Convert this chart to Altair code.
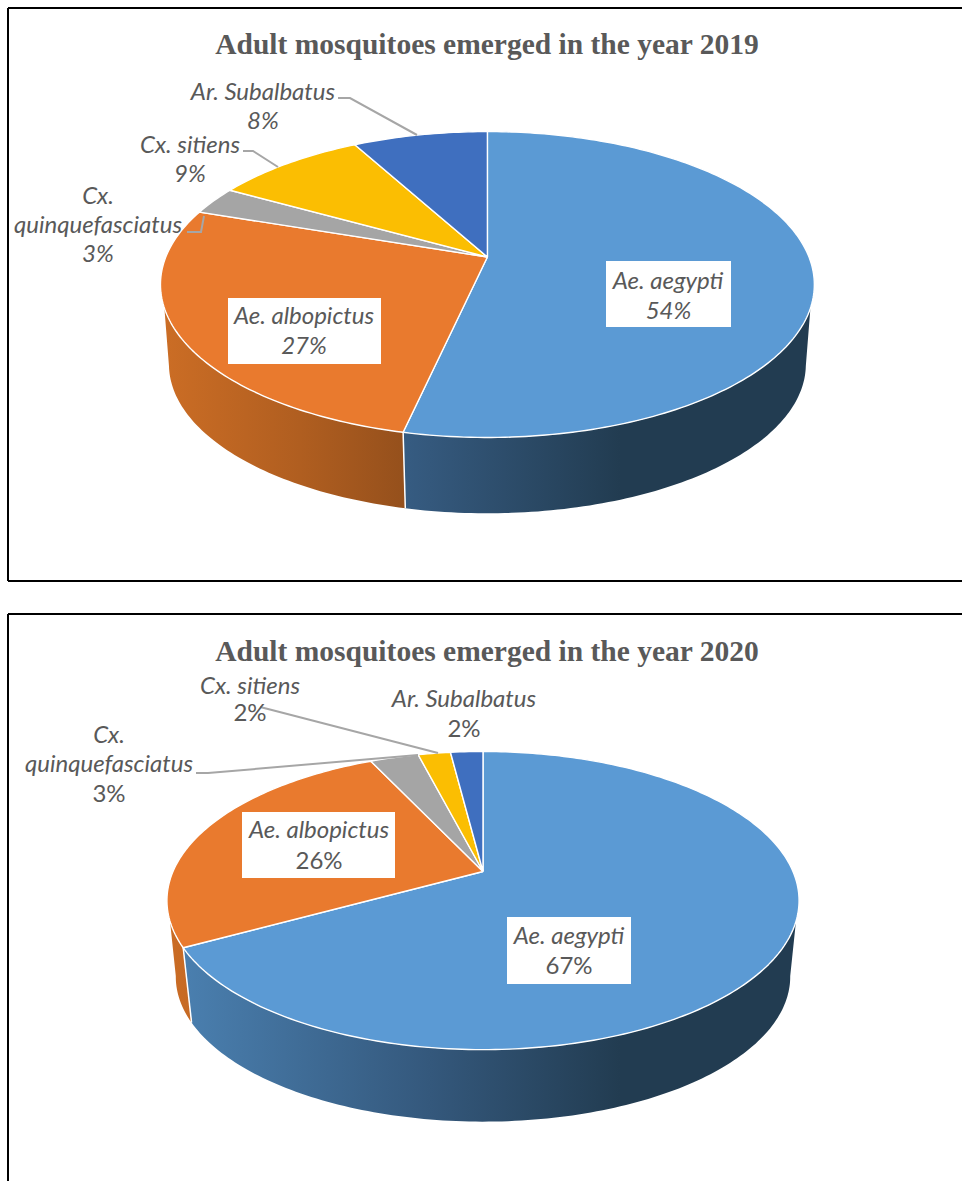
import math

import altair as alt
import pandas as pd

# Species in slice order, clockwise from twelve o'clock
SPECIES = ["Ae. aegypti", "Ae. albopictus", "Cx. quinquefasciatus", "Cx. sitiens", "Ar. Subalbatus"]
SHARES_2019 = [54, 27, 3, 9, 8]
SHARES_2020 = [67, 26, 3, 2, 2]
TITLE_2019 = "Adult mosquitoes emerged in the year 2019"
TITLE_2020 = "Adult mosquitoes emerged in the year 2020"

SLICE_COLORS = ["#5B9AD4", "#E97A2E", "#A5A5A5", "#FBBE02", "#3F6FBF"]
TEXT_COLOR = "#595959"
LEADER_COLOR = "#A6A6A6"

W, H = 962, 1181

# Perspective of each disc: apex on screen, lateral scale, depth scale, tilt,
# rim scale and drop of the lower rim.
DISC_2019 = dict(cx=487.4, cy=257, a=321.6, b=148.0, k=0.18, s=0.974, drop=80.5)
DISC_2020 = dict(cx=483.0, cy=871.5, a=310.0, b=143.4, k=0.195, s=0.972, drop=77.0)

# Angular extent of the visible side wall (degrees clockwise from the top).
WALL_TOP = (109, 251)
WALL_LOW = (101, 259)

# Horizontal shading of the side walls: screen x -> colour.
BLUE_SHADE = [(180, "#4A80B0"), (430, "#34587C"), (620, "#223C51"), (830, "#223C51")]
ORANGE_SHADE = [(160, "#CC6D25"), (300, "#B05E20"), (430, "#8F4D1B")]


def rim_point(disc, deg, lower=False):
    """Project a point on the disc rim to the screen."""
    t = math.radians(deg)
    px, py = math.sin(t), -math.cos(t)
    w = 1 - disc["k"] * py
    u, v = disc["a"] * px / w, disc["b"] * py / w
    if lower:
        return disc["cx"] + disc["s"] * u, disc["cy"] + disc["drop"] + disc["s"] * v
    return disc["cx"] + u, disc["cy"] + v


def arc(disc, start, end, lower=False, step=1.0):
    n = max(2, int(abs(end - start) / step) + 1)
    return [rim_point(disc, start + (end - start) * i / (n - 1), lower) for i in range(n)]


def frame(points, **extra):
    rows = [dict(px=p[0], py=p[1], i=i, **extra) for i, p in enumerate(points)]
    return pd.DataFrame(rows)


def boundaries(shares):
    total = sum(shares)
    out, run = [0.0], 0
    for s in shares:
        run += s
        out.append(360.0 * run / total)
    return out


X = alt.X("px:Q", scale=alt.Scale(domain=[0, W], nice=False, zero=False), axis=None)
Y = alt.Y("py:Q", scale=alt.Scale(domain=[H, 0], nice=False, zero=False), axis=None)


def shade_gradient(shade, x0, x1):
    """Left-to-right gradient sampling a shade ramp over [x0, x1]."""

    def rgb(h):
        return [int(h[j:j + 2], 16) for j in (1, 3, 5)]

    def sample(x):
        if x <= shade[0][0]:
            return shade[0][1]
        for (a, ca), (b, cb) in zip(shade, shade[1:]):
            if x <= b:
                f = (x - a) / (b - a)
                mix = [round(p + (q - p) * f) for p, q in zip(rgb(ca), rgb(cb))]
                return "#%02X%02X%02X" % tuple(mix)
        return shade[-1][1]

    xs = [x0] + [x for x, _ in shade if x0 < x < x1] + [x1]
    stops = [alt.GradientStop(color=sample(x), offset=(x - x0) / (x1 - x0)) for x in xs]
    return alt.Gradient(gradient="linear", stops=stops, x1=0, x2=1, y1=0, y2=0)


def wall(disc, top_a, top_b, low_a, low_b, shade):
    pts = arc(disc, top_a, top_b) + arc(disc, low_b, low_a, lower=True)
    pts.append(pts[0])
    xs = [p[0] for p in pts]
    return (
        alt.Chart(frame(pts))
        .mark_line(fill=shade_gradient(shade, min(xs), max(xs)), strokeWidth=0)
        .encode(x=X, y=Y, order="i:Q")
    )


def pie_layers(disc, shares):
    edges = boundaries(shares)
    split = edges[1]
    layers = [
        wall(disc, WALL_TOP[0], split, WALL_LOW[0], split, BLUE_SHADE),
        wall(disc, split, WALL_TOP[1], split, WALL_LOW[1], ORANGE_SHADE),
    ]
    seam = [rim_point(disc, split), rim_point(disc, split, lower=True)]
    layers.append(
        alt.Chart(frame(seam)).mark_line(color="white", strokeWidth=1.5).encode(x=X, y=Y, order="i:Q")
    )
    apex = (disc["cx"], disc["cy"])
    for name, color, a, b in zip(SPECIES, SLICE_COLORS, edges, edges[1:]):
        pts = [apex] + arc(disc, a, b) + [apex]
        layers.append(
            alt.Chart(frame(pts, species=name))
            .mark_line(fill=color, stroke="white", strokeWidth=1.4, strokeJoin="round")
            .encode(x=X, y=Y, order="i:Q")
        )
    return layers


# Panel frames: left, top and bottom edges only reach the page border
FRAME_LINES = [
    (8, 8, 8, 581),
    (8, 8, 962, 8),
    (8, 581, 962, 581),
    (8, 614, 8, 1181),
    (8, 614, 962, 614),
]

# Data-label backgrounds (left, top, right, bottom)
LABEL_BOXES = [
    (228, 298, 381, 364),
    (606, 261, 731, 327),
    (242, 812, 395, 878),
    (507, 917, 631, 984),
]

# Leader polylines joining outer labels to their slices
LEADERS = [
    [(338, 98), (350, 98), (417, 135)],
    [(243, 151), (253, 151), (278, 167)],
    [(187, 232), (201, 232), (204, 216)],
    [(260, 707), (268, 709), (438, 753)],
    [(196, 773), (208, 773), (418, 755)],
]

# Text rows: centre x, centre y, string
ITALIC_TEXT = [
    (263, 93, "Ar. Subalbatus"),
    (263, 122, f"{SHARES_2019[4]}%"),
    (190, 146, "Cx. sitiens"),
    (190, 175, f"{SHARES_2019[3]}%"),
    (98, 197, "Cx."),
    (98, 226, "quinquefasciatus"),
    (98, 255, f"{SHARES_2019[2]}%"),
    (304, 317, "Ae. albopictus"),
    (304, 347, f"{SHARES_2019[1]}%"),
    (668, 282, "Ae. aegypti"),
    (250, 687, "Cx. sitiens"),
    (464, 700, "Ar. Subalbatus"),
    (109, 736, "Cx."),
    (109, 765, "quinquefasciatus"),
    (319, 831, "Ae. albopictus"),
    (569, 937, "Ae. aegypti"),
]
UPRIGHT_TEXT = [
    (668.5, 312, f"{SHARES_2019[0]}%"),
    (250, 714, f"{SHARES_2020[3]}%"),
    (464, 730, f"{SHARES_2020[4]}%"),
    (109, 795, f"{SHARES_2020[2]}%"),
    (319, 862, f"{SHARES_2020[1]}%"),
    (569, 967, f"{SHARES_2020[0]}%"),
]
TITLES = [(487, 45, TITLE_2019), (487, 652, TITLE_2020)]


def text_layer(rows, **mark):
    df = pd.DataFrame(rows, columns=["px", "py", "label"])
    return alt.Chart(df).mark_text(align="center", baseline="middle", **mark).encode(x=X, y=Y, text="label:N")


frame_df = pd.DataFrame(FRAME_LINES, columns=["px", "py", "px2", "py2"])
frame_layer = (
    alt.Chart(frame_df)
    .mark_rule(color="black", strokeWidth=2)
    .encode(x=X, y=Y, x2="px2:Q", y2="py2:Q")
)

box_df = pd.DataFrame(LABEL_BOXES, columns=["px", "py", "px2", "py2"])
box_layer = alt.Chart(box_df).mark_rect(color="white").encode(x=X, y=Y, x2="px2:Q", y2="py2:Q")

leader_layers = [
    alt.Chart(frame(points)).mark_line(color=LEADER_COLOR, strokeWidth=2).encode(x=X, y=Y, order="i:Q")
    for points in LEADERS
]

LABEL_FONT = dict(font="Lato", fontSize=24, color=TEXT_COLOR)

chart = alt.layer(
    frame_layer,
    *pie_layers(DISC_2019, SHARES_2019),
    *pie_layers(DISC_2020, SHARES_2020),
    *leader_layers,
    box_layer,
    text_layer(TITLES, font="Liberation Serif", fontWeight="bold", fontSize=29.5, color=TEXT_COLOR),
    text_layer(ITALIC_TEXT + UPRIGHT_TEXT[:1], fontStyle="italic", **LABEL_FONT),
    text_layer(UPRIGHT_TEXT[1:], **LABEL_FONT),
).properties(
    width=W,
    height=H,
    padding=0,
    autosize=alt.AutoSizeParams(type="none"),
    background="white",
).configure_view(stroke=None)

chart.save("out.html", embed_options={"renderer": "svg", "actions": False})
